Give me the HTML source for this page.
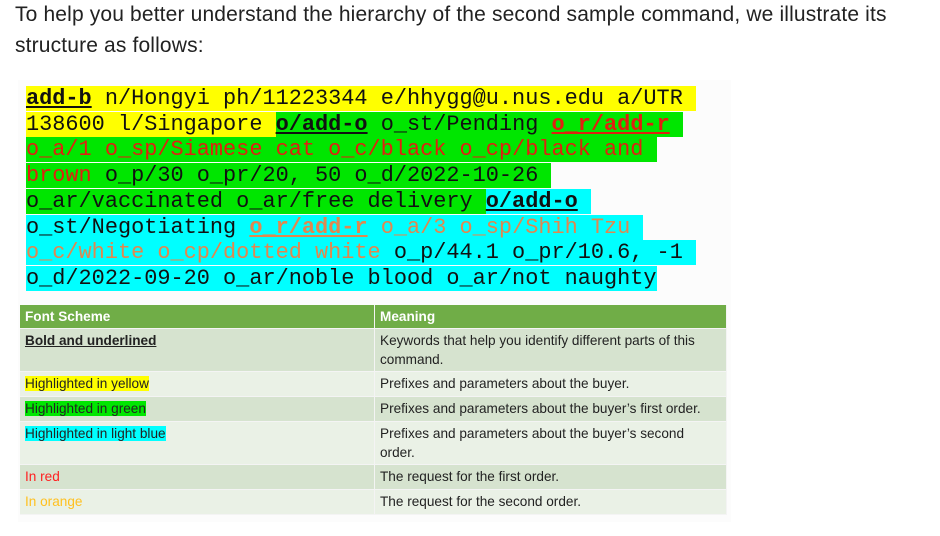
<!DOCTYPE html>
<html><head><meta charset="utf-8">
<style>
body{margin:0;width:940px;height:536px;background:#fff;position:relative;overflow:hidden;font-family:"Liberation Sans",Arial,sans-serif;}
.p{position:absolute;left:15px;font-size:21px;letter-spacing:0.15px;color:#222;line-height:31px;}
.img{position:absolute;left:18px;top:80px;width:713px;height:442px;background:#fcfcfc;}
.code{position:absolute;left:26px;top:86px;font-family:"Liberation Mono",monospace;font-size:21.9px;line-height:25.7px;white-space:pre;color:#111;}
.y{background:#ffff00}.g{background:#00e600}.c{background:#00ffff}
.r{color:#e02010}.o{color:#e0884f}
.k{font-weight:bold;text-decoration:underline}
table{position:absolute;left:20px;top:305px;width:707px;border-collapse:collapse;font-size:13.6px;color:#222;}
td{padding:3px 5px 2px;vertical-align:top;border-right:1px solid #f4f4f4;border-bottom:1px solid #f4f4f4;line-height:18.5px;height:19px;}
th{background:#70ad47;color:#fff;text-align:left;padding:2px 5px;font-weight:bold;height:19px;line-height:19px;font-size:13.6px;border-right:1px solid #f4f4f4;border-bottom:1px solid #f4f4f4;}
tr.d td{background:#d6e3cf}tr.l td{background:#eaf1e6}
tr.t td{height:37px}
</style></head><body>
<div class="p" style="top:-1px">To help you better understand the hierarchy of the second sample command, we illustrate its<br>structure as follows:</div>
<div class="img"></div>
<div class="code"><span class="y"><span class="k">add-b</span> n/Hongyi ph/11223344 e/hhygg@u.nus.edu a/UTR </span>
<span class="y">138600 l/Singapore </span><span class="g"><span class="k">o/add-o</span> o_st/Pending <span class="r k">o_r/add-r</span> </span>
<span class="g"><span class="r">o_a/1 o_sp/Siamese cat o_c/black o_cp/black and</span> </span>
<span class="g"><span class="r">brown</span> o_p/30 o_pr/20, 50 o_d/2022-10-26 </span>
<span class="g">o_ar/vaccinated o_ar/free delivery </span><span class="c"><span class="k">o/add-o</span> </span>
<span class="c">o_st/Negotiating <span class="o k">o_r/add-r</span><span class="o"> o_a/3 o_sp/Shih Tzu</span> </span>
<span class="c"><span class="o">o_c/white o_cp/dotted white</span> o_p/44.1 o_pr/10.6, -1 </span>
<span class="c">o_d/2022-09-20 o_ar/noble blood o_ar/not naughty</span></div>
<table>
<tr><th style="width:344px">Font Scheme</th><th>Meaning</th></tr>
<tr class="d t"><td><b style="text-decoration:underline">Bold and underlined</b></td><td>Keywords that help you identify different parts of this command.</td></tr>
<tr class="l"><td><span style="background:#ffff00">Highlighted in yellow</span></td><td>Prefixes and parameters about the buyer.</td></tr>
<tr class="d"><td><span style="background:#00e600">Highlighted in green</span></td><td>Prefixes and parameters about the buyer’s first order.</td></tr>
<tr class="l t"><td><span style="background:#00ffff">Highlighted in light blue</span></td><td>Prefixes and parameters about the buyer’s second<br>order.</td></tr>
<tr class="d"><td style="color:#ff2020">In red</td><td>The request for the first order.</td></tr>
<tr class="l"><td style="color:#ffc020">In orange</td><td>The request for the second order.</td></tr>
</table>
</body></html>
